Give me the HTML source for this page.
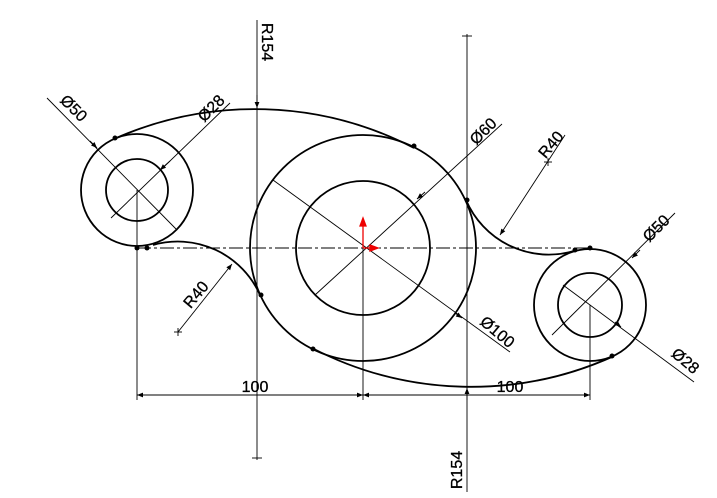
<!DOCTYPE html>
<html><head><meta charset="utf-8"><style>
html,body{margin:0;padding:0;background:#fff;width:717px;height:498px;overflow:hidden}
text{font-family:"Liberation Sans",sans-serif;font-size:16px;fill:#000;stroke:#000;stroke-width:0.3}
</style></head><body>
<svg width="717" height="498" viewBox="0 0 717 498" xmlns="http://www.w3.org/2000/svg">
<defs>
<marker id="a" viewBox="0 0 10 10" refX="10" refY="5" markerWidth="9" markerHeight="6" orient="auto-start-reverse" markerUnits="userSpaceOnUse"><path d="M0,1 L10,5 L0,9z" fill="#000"/></marker>
</defs>
<g stroke="#000" stroke-width="0.9" fill="none">
<line x1="137" y1="248" x2="590" y2="248" stroke-dasharray="14,3,3,3"/>
<line x1="257" y1="20" x2="257" y2="460"/>
<line x1="252" y1="458" x2="262" y2="458"/>
<line x1="467" y1="34" x2="467" y2="492"/>
<line x1="462" y1="36" x2="472" y2="36"/>
<line x1="257" y1="95" x2="257" y2="108" marker-end="url(#a)"/>
<line x1="467" y1="400" x2="467" y2="388" marker-end="url(#a)"/>
<line x1="137" y1="190" x2="137" y2="400"/>
<line x1="363" y1="248" x2="363" y2="400"/>
<line x1="590" y1="305" x2="590" y2="400"/>
<line x1="137" y1="395" x2="363" y2="395" marker-start="url(#a)" marker-end="url(#a)"/>
<line x1="363" y1="395" x2="590" y2="395" marker-start="url(#a)" marker-end="url(#a)"/>
<line x1="47" y1="98" x2="177" y2="230"/>
<line x1="90" y1="141" x2="97" y2="148" marker-end="url(#a)"/>
<line x1="230" y1="103" x2="111" y2="218"/>
<line x1="170" y1="161" x2="160" y2="170" marker-end="url(#a)"/>
<line x1="502" y1="124" x2="315" y2="295"/>
<line x1="425" y1="192" x2="417" y2="199" marker-end="url(#a)"/>
<line x1="273" y1="180" x2="510" y2="352"/>
<line x1="455" y1="313" x2="462" y2="318" marker-end="url(#a)"/>
<line x1="675" y1="213" x2="552" y2="335"/>
<line x1="640" y1="250" x2="632" y2="258" marker-end="url(#a)"/>
<line x1="563" y1="285" x2="694" y2="382"/>
<line x1="615" y1="322" x2="621" y2="327" marker-end="url(#a)"/>
<line x1="178" y1="332" x2="232" y2="264" marker-end="url(#a)"/>
<line x1="174" y1="332" x2="182" y2="332"/><line x1="178" y1="328" x2="178" y2="336"/>
<line x1="565" y1="135" x2="500" y2="235" marker-end="url(#a)"/>
<line x1="544" y1="162" x2="552" y2="162"/><line x1="548" y1="158" x2="548" y2="166"/>
</g>
<g stroke="#000" stroke-width="1.8" fill="none">
<circle cx="137" cy="190" r="56"/>
<circle cx="137" cy="190" r="31"/>
<circle cx="363" cy="248" r="113"/>
<circle cx="363" cy="248" r="67"/>
<circle cx="590" cy="305" r="56"/>
<circle cx="590" cy="305" r="32"/>
<path d="M114,139 A346,346 0 0 1 414,148"/>
<path d="M312,348 A346,346 0 0 0 614,356"/>
<path d="M153,245 A90,90 0 0 1 260,295"/>
<path d="M466,200 A90,90 0 0 0 574,251"/>
</g>
<g fill="#000">
<circle cx="115" cy="138" r="2.5"/><circle cx="414" cy="146" r="2.5"/>
<circle cx="467" cy="200" r="2.5"/><circle cx="575" cy="250" r="2.5"/>
<circle cx="590" cy="248" r="2.5"/><circle cx="612" cy="356" r="2.5"/>
<circle cx="313" cy="349" r="2.5"/><circle cx="261" cy="295" r="2.5"/>
<circle cx="147" cy="248" r="2.5"/><circle cx="137" cy="248" r="2.5"/>
</g>
<g stroke="#e00" stroke-width="1.3" fill="#e00">
<line x1="363" y1="248" x2="363" y2="224"/><path d="M360,226 L363,218 L366,226z"/>
<line x1="363" y1="248" x2="372" y2="248"/><path d="M370,245 L378,248 L370,251z"/>
</g>
<text transform="translate(70,112) rotate(45)" text-anchor="middle">Ø50</text>
<text transform="translate(215,112) rotate(-45)" text-anchor="middle">Ø28</text>
<text transform="translate(262,42) rotate(90)" text-anchor="middle">R154</text>
<text transform="translate(200,298) rotate(-50)" text-anchor="middle">R40</text>
<text transform="translate(487,135) rotate(-45)" text-anchor="middle">Ø60</text>
<text transform="translate(555,148) rotate(-50)" text-anchor="middle">R40</text>
<text transform="translate(494,336) rotate(40)" text-anchor="middle">Ø100</text>
<text transform="translate(660,232) rotate(-45)" text-anchor="middle">Ø50</text>
<text transform="translate(682,365) rotate(40)" text-anchor="middle">Ø28</text>
<text transform="translate(462,470) rotate(-90)" text-anchor="middle">R154</text>
<text x="255" y="392" text-anchor="middle">100</text>
<text x="510" y="392" text-anchor="middle">100</text>
</svg>
</body></html>
